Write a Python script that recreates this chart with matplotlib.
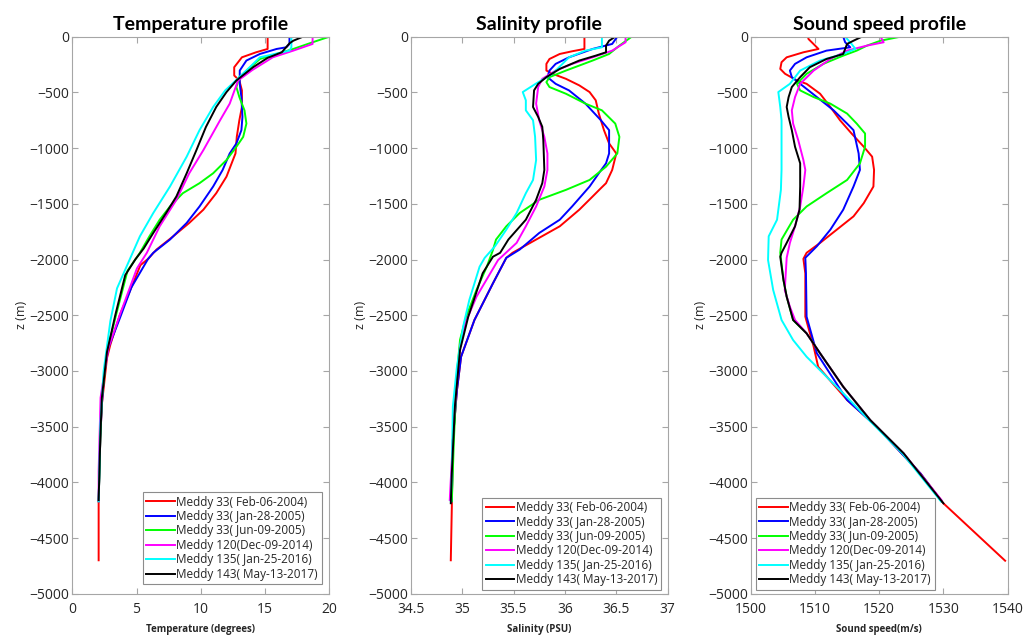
import matplotlib
matplotlib.use("Agg")
import matplotlib.pyplot as plt

# ── Data (depth in m, value) ────────────────────────────────────────────────
LABELS = ["Meddy 33( Feb-06-2004)", "Meddy 33( Jan-28-2005)",
          "Meddy 33( Jun-09-2005)", "Meddy 120(Dec-09-2014)",
          "Meddy 135( Jan-25-2016)", "Meddy 143( May-13-2017)"]
COLORS = ["#ff0000", "#0000ff", "#00ff00", "#ff00ff", "#00ffff", "#000000"]

# Temperature
T_red_z = [0, -110, -140, -185, -274, -348, -393, -482, -631, -750, -899, -1048, -1107, -1256, -1405,
           -1553, -1672, -1792, -1911, -1994, -2051, -2250, -2497, -2765, -2884, -3301, -3599, -4162, -4700]
T_red = [15.2, 15.2, 14.3, 13.2, 12.6, 12.6, 13.0, 13.2, 13.2, 13.0, 12.8, 12.7, 12.5, 12.0, 11.2,
         10.2, 9.1, 7.85, 6.55, 5.9, 5.3, 4.6, 3.7, 2.96, 2.7, 2.3, 2.18, 2.05, 2.05]
T_blue_z = [0, -65, -95, -110, -155, -214, -304, -423, -542, -720, -839, -958, -1048, -1196, -1345,
            -1524, -1672, -1821, -1940, -1994, -2250, -2527, -2795, -3000, -3300, -3600, -4170]
T_blue = [16.9, 16.9, 16.66, 15.9, 14.6, 13.55, 13.03, 13.03, 13.16, 13.24, 13.16, 12.77, 12.25, 11.7,
          10.96, 9.9, 8.9, 7.6, 6.3, 5.9, 4.6, 3.7, 2.8, 2.5, 2.3, 2.18, 2.05]
T_green_z = [0, -50, -110, -155, -200, -363, -452, -542, -661, -780, -899, -988, -1107, -1226, -1315,
             -1405, -1524, -1643, -1792, -1940, -2100, -2500, -2830, -3240, -3600, -4170]
T_green = [20.0, 18.7, 17.2, 15.9, 14.6, 13.0, 12.77, 13.0, 13.4, 13.55, 13.3, 12.77, 12.0, 10.96, 9.9,
           8.6, 7.6, 6.8, 6.0, 5.26, 4.3, 3.4, 2.7, 2.3, 2.18, 2.05]
T_mag_z = [0, -65, -125, -185, -300, -393, -601, -750, -1018, -1226, -1464, -1702, -1940, -2080,
           -2497, -2795, -3240, -3900, -4170]
T_mag = [18.7, 18.7, 17.2, 15.6, 14.0, 12.9, 12.25, 11.5, 10.2, 9.1, 8.1, 6.8, 5.8, 5.03,
         3.7, 2.8, 2.2, 2.05, 2.05]
T_cyan_z = [0, -95, -125, -185, -363, -482, -631, -839, -1077, -1345, -1583, -1792, -1991, -2259,
            -2554, -3000, -3480, -4170]
T_cyan = [17.05, 17.05, 16.9, 14.6, 13.0, 11.9, 10.96, 9.9, 8.9, 7.6, 6.3, 5.26, 4.5, 3.48,
          2.96, 2.44, 2.18, 2.05]
T_black_z = [0, -36, -60, -140, -190, -274, -393, -497, -631, -810, -1018, -1226, -1434, -1583, -1762,
             -1902, -2000, -2140, -2497, -2830, -3241, -3599, -4160]
T_black = [17.95, 17.2, 16.9, 16.3, 15.2, 14.07, 12.77, 12.0, 11.2, 10.4, 9.66, 8.9, 8.1, 7.3, 6.3,
           5.55, 4.9, 4.12, 3.35, 2.7, 2.3, 2.18, 2.05]

# Salinity
S_red_z = [0, -110, -131, -155, -200, -244, -304, -333, -378, -437, -497, -571, -690, -839, -958, -1048,
           -1196, -1315, -1360, -1434, -1553, -1702, -1821, -1940, -1985, -2214, -2543, -2873, -3172,
           -3620, -4219, -4700]
S_red = [36.19, 36.19, 36.07, 35.95, 35.85, 35.82, 35.82, 35.88, 36.01, 36.14, 36.24, 36.3, 36.33,
         36.38, 36.43, 36.5, 36.46, 36.4, 36.35, 36.27, 36.14, 35.95, 35.72, 35.49, 35.43, 35.30,
         35.12, 34.99, 34.95, 34.91, 34.90, 34.89]
S_blue_z = [0, -65, -110, -185, -244, -304, -363, -423, -482, -601, -750, -839, -1048, -1137, -1226,
            -1345, -1524, -1643, -1762, -1911, -1985, -2214, -2543, -2873, -3172, -3620, -4170]
S_blue = [36.51, 36.46, 36.27, 36.04, 35.91, 35.85, 35.83, 35.91, 36.04, 36.2, 36.35, 36.43, 36.43,
          36.4, 36.33, 36.24, 36.07, 35.95, 35.75, 35.56, 35.43, 35.30, 35.12, 34.99, 34.95, 34.91, 34.90]
S_green_z = [0, -80, -155, -214, -304, -363, -408, -452, -512, -601, -661, -780, -899, -1048, -1167,
             -1286, -1375, -1464, -1583, -1702, -1821, -1915, -2065, -2273, -2512, -2720, -3020,
             -3620, -4170]
S_green = [36.65, 36.53, 36.43, 36.27, 36.01, 35.85, 35.82, 35.85, 36.01, 36.2, 36.36, 36.49, 36.53,
           36.51, 36.4, 36.24, 36.01, 35.75, 35.56, 35.43, 35.33, 35.30, 35.24, 35.14, 35.04, 34.98,
           34.95, 34.92, 34.90]
S_mag_z = [0, -50, -125, -185, -244, -304, -378, -452, -601, -750, -899, -1048, -1196, -1345, -1524,
           -1702, -1851, -2005, -2334, -2573, -2780, -3440, -4158]
S_mag = [36.59, 36.59, 36.46, 36.27, 36.07, 35.91, 35.78, 35.74, 35.72, 35.75, 35.8, 35.83, 35.83,
         35.8, 35.72, 35.62, 35.53, 35.35, 35.14, 35.03, 34.98, 34.92, 34.88]
S_cyan_z = [0, -95, -125, -185, -333, -420, -497, -571, -661, -750, -899, -1107, -1286, -1405, -1583,
            -1732, -1881, -1985, -2065, -2364, -2603, -2962, -3321, -3919, -4170]
S_cyan = [36.36, 36.36, 36.2, 36.04, 35.88, 35.72, 35.59, 35.62, 35.62, 35.69, 35.71, 35.72, 35.69,
          35.62, 35.53, 35.43, 35.32, 35.22, 35.17, 35.07, 35.01, 34.95, 34.91, 34.90, 34.89]
S_black_z = [0, -36, -80, -140, -170, -214, -289, -363, -423, -482, -631, -720, -809, -929, -1196,
             -1315, -1464, -1643, -1821, -1940, -1975, -2124, -2513, -2812, -3320, -3919, -4188]
S_black = [36.49, 36.43, 36.4, 36.4, 36.3, 36.14, 35.95, 35.82, 35.74, 35.7, 35.69, 35.74, 35.78,
           35.79, 35.8, 35.78, 35.72, 35.62, 35.45, 35.37, 35.30, 35.2, 35.06, 34.98, 34.93, 34.9, 34.89]

# Sound speed
C_red_z = [0, -21, -110, -140, -185, -229, -289, -333, -393, -423, -512, -631, -750, -869, -988,
           -1077, -1196, -1345, -1494, -1613, -1732, -1851, -1940, -1994, -2124, -2513, -2783, -2963,
           -3261, -3501, -3919, -4189, -4704]
C_red = [1508.9, 1509.0, 1510.55, 1508.2, 1505.6, 1504.8, 1504.6, 1505.35, 1507.2, 1508.7, 1510.8,
         1512.4, 1513.9, 1515.7, 1517.6, 1518.9, 1519.2, 1519.1, 1517.6, 1516.0, 1513.4, 1510.8,
         1508.7, 1508.2, 1508.5, 1508.5, 1509.8, 1510.5, 1515.0, 1519.6, 1526.4, 1530.0, 1539.6]
C_blue_z = [0, -50, -95, -125, -185, -244, -304, -363, -423, -542, -661, -780, -839, -1048, -1196,
            -1345, -1553, -1732, -1881, -1985, -2124, -2513, -2842, -3261, -3501, -3919, -4170]
C_blue = [1514.4, 1514.7, 1515.5, 1511.8, 1508.7, 1506.9, 1506.1, 1506.4, 1507.7, 1510.3, 1512.9,
          1515.0, 1516.0, 1516.8, 1517.0, 1516.0, 1514.4, 1512.4, 1510.3, 1508.5, 1508.6, 1508.7,
          1510.3, 1515.0, 1519.6, 1526.4, 1529.7]
C_green_z = [0, -36, -80, -125, -170, -244, -333, -423, -482, -542, -601, -690, -780, -869, -988,
             -1137, -1286, -1405, -1524, -1643, -1821, -1940, -2184, -2334, -2543, -2663, -2842,
             -3142, -3441, -3740, -4170]
C_green = [1523.3, 1520.2, 1518.1, 1516.5, 1514.4, 1511.3, 1508.7, 1507.2, 1507.7, 1509.8, 1512.4,
           1515.0, 1516.5, 1517.8, 1517.8, 1517.0, 1515.0, 1511.8, 1508.7, 1506.6, 1504.8, 1504.6,
           1505.1, 1505.6, 1506.6, 1508.7, 1510.8, 1514.4, 1518.6, 1523.8, 1529.7]
C_mag_z = [0, -50, -80, -125, -200, -304, -423, -542, -661, -780, -929, -1107, -1196, -1345, -1524,
           -1702, -1851, -1985, -2274, -2424, -2543, -2663, -2842, -3142, -3441, -3740, -4160]
C_mag = [1520.2, 1520.7, 1518.1, 1515.0, 1512.4, 1509.8, 1507.7, 1506.9, 1506.4, 1506.6, 1507.4,
         1508.2, 1508.5, 1508.2, 1507.7, 1506.9, 1506.1, 1505.6, 1505.3, 1506.1, 1506.9, 1508.7,
         1510.8, 1514.4, 1518.6, 1523.8, 1529.7]
C_cyan_z = [0, -65, -110, -155, -214, -304, -423, -497, -631, -750, -1048, -1196, -1375, -1643, -1792,
            -2005, -2274, -2543, -2723, -2873, -3052, -3201, -3441, -3740, -4170]
C_cyan = [1514.7, 1515.7, 1516.3, 1514.4, 1510.8, 1507.7, 1506.1, 1504.3, 1504.6, 1504.8, 1504.8,
          1504.8, 1504.7, 1504.1, 1502.8, 1502.7, 1503.5, 1504.8, 1506.6, 1508.7, 1511.8, 1514.4,
          1518.4, 1523.6, 1529.6]
C_black_z = [0, -36, -65, -110, -155, -200, -274, -363, -452, -542, -631, -720, -839, -988, -1137,
             -1345, -1553, -1702, -1851, -1940, -1975, -2184, -2334, -2543, -2663, -2842, -3142,
             -3441, -3740, -4189]
C_black = [1517.3, 1516.0, 1515.0, 1514.7, 1514.4, 1511.8, 1509.2, 1507.7, 1506.4, 1505.9, 1505.6,
           1505.9, 1506.4, 1506.9, 1507.7, 1507.7, 1507.6, 1506.9, 1505.6, 1504.8, 1504.6, 1505.1,
           1505.6, 1506.6, 1508.7, 1510.8, 1514.4, 1518.6, 1523.8, 1530.0]

T_TICKS = [0, 5, 10, 15, 20]
S_TICKS = [34.5, 35, 35.5, 36, 36.5, 37]
C_TICKS = [1500, 1510, 1520, 1530, 1540]
Z_TICKS = list(range(0, -5001, -500))

PANELS = [
    dict(title="Temperature profile", xlabel="Temperature (degrees)", ticks=T_TICKS,
         xlim=(0, 20), left=72.3,
         series=[(T_red, T_red_z), (T_blue, T_blue_z), (T_green, T_green_z),
                 (T_mag, T_mag_z), (T_cyan, T_cyan_z), (T_black, T_black_z)],
         leg_loc="lower right", leg_anchor=(0.97, 0.017)),
    dict(title="Salinity profile", xlabel="Salinity (PSU)", ticks=S_TICKS,
         xlim=(34.5, 37), left=410.7,
         series=[(S_red, S_red_z), (S_blue, S_blue_z), (S_green, S_green_z),
                 (S_mag, S_mag_z), (S_cyan, S_cyan_z), (S_black, S_black_z)],
         leg_loc="lower right", leg_anchor=(0.975, 0.007)),
    dict(title="Sound speed profile", xlabel="Sound speed(m/s)", ticks=C_TICKS,
         xlim=(1500, 1540), left=750.7,
         series=[(C_red, C_red_z), (C_blue, C_blue_z), (C_green, C_green_z),
                 (C_mag, C_mag_z), (C_cyan, C_cyan_z), (C_black, C_black_z)],
         leg_loc="lower left", leg_anchor=(0.02, 0.007)),
]

W, H = 1033, 635
AX_W, AX_TOP, AX_BOT = 257.0, 36.7, 593.7
SPINE = "#a6a6a6"
TXT = "#262626"

plt.rcParams["font.family"] = ["Open Sans", "DejaVu Sans"]

fig = plt.figure(figsize=(W / 100, H / 100), dpi=100)

for p in PANELS:
    ax = fig.add_axes([p["left"] / W, 1 - AX_BOT / H, AX_W / W, (AX_BOT - AX_TOP) / H])
    for (vals, zs), col, lab in zip(p["series"], COLORS, LABELS):
        ax.plot(vals, zs, color=col, lw=1.4, label=lab)

    ax.set_xlim(*p["xlim"])
    ax.set_ylim(-5000, 0)
    ax.set_xticks(p["ticks"])
    ax.set_xticklabels([f"{t:g}" for t in p["ticks"]])
    ax.set_yticks(Z_TICKS)
    ax.tick_params(direction="in", top=True, right=True, length=4, width=0.8,
                   color=SPINE, labelcolor=TXT, labelsize=10)
    ax.tick_params(axis="x", pad=6)
    ax.tick_params(axis="y", pad=2)
    for sp in ax.spines.values():
        sp.set_color(SPINE)
        sp.set_linewidth(0.8)

    ax.set_title(p["title"], fontsize=14, fontweight="bold", family=["Lato", "DejaVu Sans"],
                 pad=5, color="black")
    ax.set_xlabel(p["xlabel"], fontsize=7, fontweight="bold", color=TXT, labelpad=5)
    ax.set_ylabel("z (m)", fontsize=9, color=TXT, labelpad=1)

    leg = ax.legend(loc=p["leg_loc"], bbox_to_anchor=p["leg_anchor"], fontsize=8.5,
                    frameon=True, fancybox=False, edgecolor="#8c8c8c", framealpha=1,
                    handlelength=2.4, handletextpad=0.15, labelspacing=0.12,
                    borderpad=0.3, borderaxespad=0)
    leg.get_frame().set_linewidth(0.8)
    for t in leg.get_texts():
        t.set_color(TXT)

fig.savefig("out.png", dpi=100)
